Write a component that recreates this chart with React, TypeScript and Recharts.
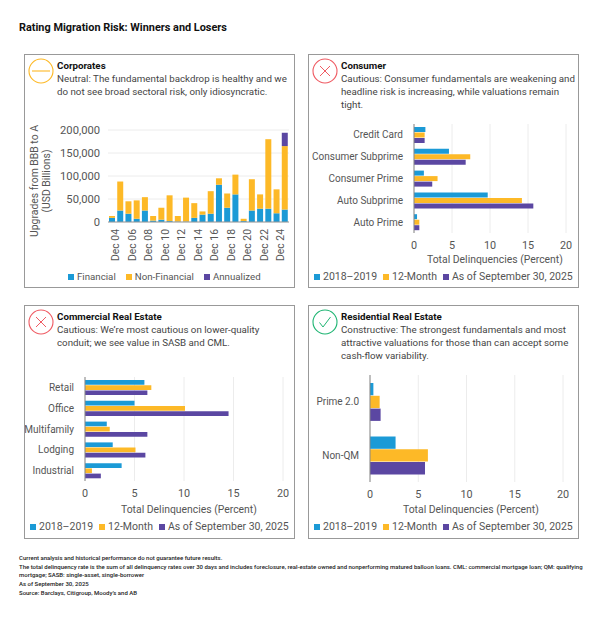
import React from 'react';
import { BarChart, Bar, XAxis, YAxis, CartesianGrid } from 'recharts';

const BLUE = '#1b9ad6';
const GOLD = '#fdb927';
const PURPLE = '#5b47a2';
const TEXT = '#555555';
const FONT = 'Roboto, sans-serif';

const corpYears = ['Dec 04', 'Dec 05', 'Dec 06', 'Dec 07', 'Dec 08', 'Dec 09', 'Dec 10', 'Dec 11', 'Dec 12', 'Dec 13', 'Dec 14', 'Dec 15', 'Dec 16', 'Dec 17', 'Dec 18', 'Dec 19', 'Dec 20', 'Dec 21', 'Dec 22', 'Dec 23', 'Dec 24', 'Dec 25'];
const corpFinancial = [9000, 25000, 18000, 7000, 25000, 3000, 5000, 2000, 1000, 1000, 9000, 16000, 18000, 81000, 31000, 60000, 2000, 25000, 29000, 29000, 19000, 27000];
const corpNonFinancial = [4000, 63000, 27000, 40000, 29000, 10000, 26000, 56000, 12000, 52000, 32000, 7000, 49000, 14000, 31000, 43000, 5000, 68000, 31000, 151000, 52000, 138000];
const corpAnnualized = [0, 0, 0, 0, 0, 0, 0, 0, 0, 0, 0, 0, 0, 0, 0, 0, 0, 0, 0, 0, 0, 29000];

const consumerCats = ['Credit Card', 'Consumer Subprime', 'Consumer Prime', 'Auto Subprime', 'Auto Prime'];
const consumerA = [1.5, 4.6, 1.3, 9.7, 0.4];
const consumerB = [1.4, 7.4, 3.1, 14.2, 0.7];
const consumerC = [1.4, 6.8, 2.4, 15.7, 0.7];

const creCats = ['Retail', 'Office', 'Multifamily', 'Lodging', 'Industrial'];
const creA = [6, 5, 2.2, 2.8, 3.7];
const creB = [6.7, 10.1, 2.5, 5.1, 0.7];
const creC = [6.3, 14.5, 6.3, 6.1, 1.6];

const resiCats = ['Prime 2.0', 'Non-QM'];
const resiA = [0.35, 2.65];
const resiB = [1, 6];
const resiC = [1.1, 5.7];

const corpTicks = [0, 50000, 100000, 150000, 200000];
const pctTicks = [0, 5, 10, 15, 20];
const delinquencyLegend = ['2018–2019', '12-Month', 'As of September 30, 2025'];
const corpLegend = ['Financial', 'Non-Financial', 'Annualized'];

const footnotes = [
  'Current analysis and historical performance do not guarantee future results.',
  'The total delinquency rate is the sum of all delinquency rates over 30 days and includes foreclosure, real-estate owned and nonperforming matured balloon loans. CML: commercial mortgage loan; QM: qualifying',
  'mortgage; SASB: single-asset, single-borrower',
  'As of September 30, 2025',
  'Source: Barclays, Citigroup, Moody’s and AB',
];

const PANEL_W = 271;
const PANEL_H = 234;

function Icon({ kind }: { kind: 'neutral' | 'cross' | 'check' }) {
  const color = kind === 'neutral' ? '#fdb927' : kind === 'cross' ? '#ef5b63' : '#1fb573';
  return (
    <svg width={26} height={26} style={{ position: 'absolute', left: 3, top: 3 }}>
      <circle cx={13} cy={13} r={12} fill="none" stroke={color} strokeWidth={1.1} />
      {kind === 'neutral' && <line x1={4} y1={13} x2={22} y2={13} stroke={color} strokeWidth={1.1} />}
      {kind === 'cross' && (
        <path d="M8 8 L18 18 M18 8 L8 18" fill="none" stroke={color} strokeWidth={1} />
      )}
      {kind === 'check' && <path d="M7.5 13.5 L11 18 L18.5 8" fill="none" stroke={color} strokeWidth={1} />}
    </svg>
  );
}

function Legend({ items, left, top, gap, fontSize }: { items: string[]; left: number; top: number; gap: number; fontSize: number }) {
  const colors = [BLUE, GOLD, PURPLE];
  return (
    <div style={{ position: 'absolute', left, top, display: 'flex', gap, fontSize, color: TEXT, whiteSpace: 'nowrap', lineHeight: '12px' }}>
      {items.map((it, i) => (
        <span key={it} style={{ display: 'flex', alignItems: 'center', gap: 3 }}>
          <span style={{ width: 6, height: 6, background: colors[i], display: 'inline-block' }} />
          {it}
        </span>
      ))}
    </div>
  );
}

interface PanelProps {
  x: number;
  y: number;
  title: string;
  lines: string[];
  icon: 'neutral' | 'cross' | 'check';
  children: React.ReactNode;
}

function Panel({ x, y, title, lines, icon, children }: PanelProps) {
  return (
    <div style={{ position: 'absolute', left: x, top: y, width: PANEL_W, height: PANEL_H, boxSizing: 'border-box', border: '1px solid #999999', fontFamily: FONT }}>
      <Icon kind={icon} />
      <div style={{ position: 'absolute', left: 32, top: 4, fontSize: 9.75, lineHeight: '13px', color: '#444', whiteSpace: 'nowrap' }}>
        <div style={{ fontWeight: 700, color: '#111' }}>{title}</div>
        {lines.map((l) => (
          <div key={l}>{l}</div>
        ))}
      </div>
      {children}
    </div>
  );
}

// single-line category tick, the default one wraps long names
function CategoryTick({ x, y, payload }: any) {
  return (
    <text x={x} y={y} dy={3.5} textAnchor="end" fontSize={10} fill={TEXT} fontFamily={FONT}>
      {payload.value}
    </text>
  );
}

function DelinquencyChart({ cats, a, b, c, left, right, top, bottom, barSize, barGap, yWidth }: {
  cats: string[]; a: number[]; b: number[]; c: number[];
  left: number; right: number; top: number; bottom: number; barSize: number; barGap: number; yWidth: number;
}) {
  const data = cats.map((name, i) => ({ name, a: a[i], b: b[i], c: c[i] }));
  return (
    <div style={{ position: 'absolute', left: 0, top: 0 }}>
      <BarChart
        width={PANEL_W - 2}
        height={PANEL_H - 2}
        data={data}
        layout="vertical"
        barSize={barSize}
        barGap={barGap}
        margin={{ top, right: PANEL_W - 2 - right, bottom: 0, left: left - yWidth }}
      >
        <CartesianGrid horizontal={false} stroke="#ececec" />
        <XAxis
          type="number"
          domain={[0, 20]}
          ticks={pctTicks}
          axisLine={false}
          tickLine={false}
          height={PANEL_H - 2 - bottom}
          tick={{ fontSize: 10.8, fill: TEXT, fontFamily: FONT }}
          tickMargin={2}
        />
        <YAxis
          type="category"
          dataKey="name"
          width={yWidth}
          interval={0}
          axisLine={{ stroke: '#888888' }}
          tickLine={false}
          tick={<CategoryTick />}
          tickMargin={5}
        />
        <Bar dataKey="a" fill={BLUE} isAnimationActive={false} />
        <Bar dataKey="b" fill={GOLD} isAnimationActive={false} />
        <Bar dataKey="c" fill={PURPLE} isAnimationActive={false} />
      </BarChart>
    </div>
  );
}

function CorporatesChart() {
  const data = corpYears.map((name, i) => ({ name, fin: corpFinancial[i], nonFin: corpNonFinancial[i], ann: corpAnnualized[i] }));
  return (
    <div style={{ position: 'absolute', left: 0, top: 0 }}>
      <BarChart
        width={PANEL_W - 2}
        height={PANEL_H - 2}
        data={data}
        barSize={6}
        margin={{ top: 75, right: 5, bottom: 0, left: 0 }}
      >
        <CartesianGrid vertical={false} stroke="#ececec" />
        <XAxis
          dataKey="name"
          interval={1}
          angle={-90}
          textAnchor="end"
          height={65}
          axisLine={{ stroke: '#999999' }}
          tickLine={false}
          tick={{ fontSize: 10.4, fill: TEXT, fontFamily: FONT, dy: -3 }}
          tickMargin={4}
        />
        <YAxis
          domain={[0, 200000]}
          ticks={corpTicks}
          width={83}
          axisLine={false}
          tickLine={false}
          tick={{ fontSize: 11.2, fill: TEXT, fontFamily: FONT }}
          tickFormatter={(v: number) => v.toLocaleString('en-US')}
          tickMargin={2}
        />
        <Bar dataKey="fin" stackId="s" fill={BLUE} isAnimationActive={false} />
        <Bar dataKey="nonFin" stackId="s" fill={GOLD} isAnimationActive={false} />
        <Bar dataKey="ann" stackId="s" fill={PURPLE} isAnimationActive={false} />
      </BarChart>
      <div style={{ position: 'absolute', left: 6, top: 170, width: 0, height: 0 }}>
        <div style={{ position: 'absolute', transform: 'translate(-50%,-50%) rotate(-90deg)', left: 10, top: -44, fontSize: 10.4, lineHeight: '12px', color: TEXT, textAlign: 'center', whiteSpace: 'nowrap' }}>
          Upgrades from BBB to A<br />(USD Billions)
        </div>
      </div>
    </div>
  );
}

export default function App() {
  return (
    <div style={{ position: 'absolute', left: 0, top: 0, width: 603, height: 624, background: '#fff', fontFamily: FONT, overflow: 'hidden' }}>
      <div style={{ position: 'absolute', left: 19, top: 21, fontSize: 10.9, fontWeight: 700, color: '#111', whiteSpace: 'nowrap', lineHeight: '14px' }}>
        Rating Migration Risk: Winners and Losers
      </div>

      <Panel x={24} y={54} title="Corporates" icon="neutral" lines={['Neutral: The fundamental backdrop is healthy and we', 'do not see broad sectoral risk, only idiosyncratic.']}>
        <CorporatesChart />
        <Legend items={corpLegend} left={43} top={216} gap={10} fontSize={9.7} />
      </Panel>

      <Panel x={308} y={54} title="Consumer" icon="cross" lines={['Cautious: Consumer fundamentals are weakening and', 'headline risk is increasing, while valuations remain', 'tight.']}>
        <DelinquencyChart cats={consumerCats} a={consumerA} b={consumerB} c={consumerC} left={105} right={257} top={69} bottom={178} barSize={5} barGap={0.5} yWidth={105} />
        <div style={{ position: 'absolute', left: 118, top: 199, fontSize: 10.4, color: TEXT, whiteSpace: 'nowrap', lineHeight: '12px' }}>Total Delinquencies (Percent)</div>
        <Legend items={delinquencyLegend} left={5} top={216} gap={6} fontSize={10.5} />
      </Panel>

      <Panel x={24} y={305} title="Commercial Real Estate" icon="cross" lines={['Cautious: We’re most cautious on lower-quality', 'conduit; we see value in SASB and CML.']}>
        <DelinquencyChart cats={creCats} a={creA} b={creB} c={creC} left={60} right={258} top={71} bottom={175} barSize={4.7} barGap={0.5} yWidth={60} />
        <div style={{ position: 'absolute', left: 96, top: 198, fontSize: 10.4, color: TEXT, whiteSpace: 'nowrap', lineHeight: '12px' }}>Total Delinquencies (Percent)</div>
        <Legend items={delinquencyLegend} left={5} top={215} gap={6} fontSize={10.5} />
      </Panel>

      <Panel x={308} y={305} title="Residential Real Estate" icon="check" lines={['Constructive: The strongest fundamentals and most', 'attractive valuations for those than can accept some', 'cash-flow variability.']}>
        <DelinquencyChart cats={resiCats} a={resiA} b={resiB} c={resiC} left={61} right={254} top={69} bottom={176} barSize={12.3} barGap={0.5} yWidth={61} />
        <div style={{ position: 'absolute', left: 94, top: 198, fontSize: 10.4, color: TEXT, whiteSpace: 'nowrap', lineHeight: '12px' }}>Total Delinquencies (Percent)</div>
        <Legend items={delinquencyLegend} left={5} top={215} gap={6} fontSize={10.5} />
      </Panel>

      <div style={{ position: 'absolute', left: 19, top: 554, fontSize: 6, fontWeight: 500, lineHeight: '8.7px', color: '#222', whiteSpace: 'nowrap' }}>
        {footnotes.map((f) => (
          <div key={f}>{f}</div>
        ))}
      </div>
    </div>
  );
}
